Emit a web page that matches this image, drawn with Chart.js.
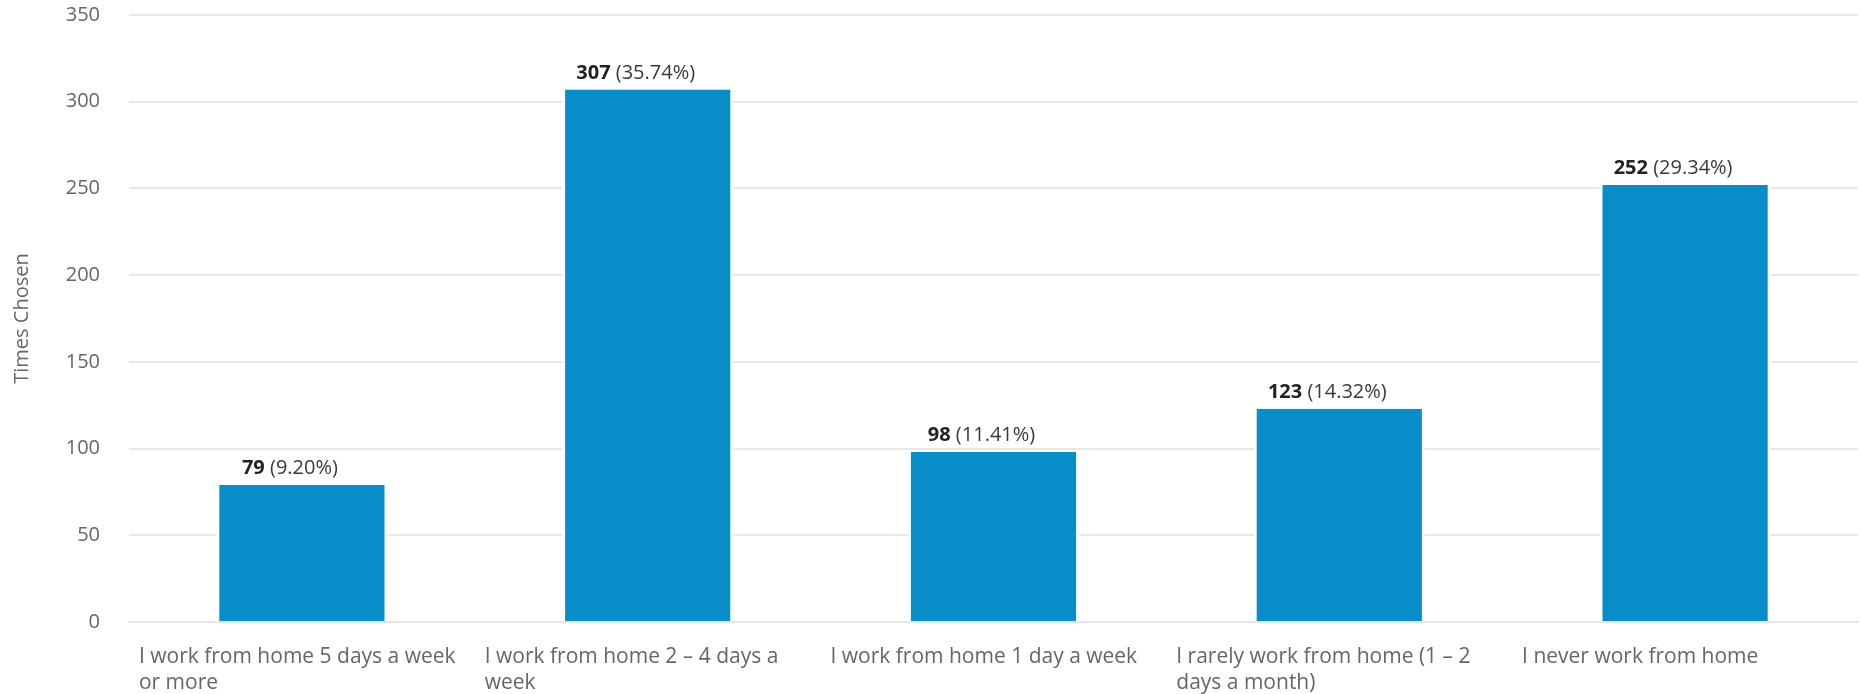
<!DOCTYPE html>
<html>
<head>
<meta charset="utf-8">
<script src="https://cdn.jsdelivr.net/npm/chart.js@4/dist/chart.umd.min.js"></script>
<style>
  html, body { margin: 0; padding: 0; background: #fff; overflow: hidden; }
  #wrap { width: 1862px; height: 694px; }
</style>
</head>
<body>
<div id="wrap"><canvas id="barChart"></canvas></div>
<script>
const categories = [
  ['I work from home 5 days a week', 'or more'],
  ['I work from home 2 – 4 days a', 'week'],
  'I work from home 1 day a week',
  ['I rarely work from home (1 – 2', 'days a month)'],
  'I never work from home'
];
const timesChosen = [79, 307, 98, 123, 252];
const yTicks = [0, 50, 100, 150, 200, 250, 300, 350];

const FONT = "'Open Sans', sans-serif";
const BAR_BLUE = '#078dc8';
const total = timesChosen.reduce((a, b) => a + b, 0);

// count in bold, share of total in regular, above each bar
const valueLabels = {
  id: 'valueLabels',
  afterDatasetsDraw(chart) {
    const { ctx } = chart;
    const meta = chart.getDatasetMeta(0);
    ctx.save();
    ctx.textBaseline = 'alphabetic';
    ctx.textAlign = 'left';
    meta.data.forEach((bar, i) => {
      const count = String(timesChosen[i]);
      const pct = ' (' + (timesChosen[i] / total * 100).toFixed(2) + '%)';
      ctx.font = 'bold 20px ' + FONT;
      const w1 = ctx.measureText(count).width;
      ctx.font = '20px ' + FONT;
      const w2 = ctx.measureText(pct).width;
      const x = bar.x - 12 - (w1 + w2) / 2;
      const y = bar.y - 11;
      ctx.font = 'bold 20px ' + FONT;
      ctx.fillStyle = '#222';
      ctx.fillText(count, x, y);
      ctx.font = '20px ' + FONT;
      ctx.fillStyle = '#3a3a3a';
      ctx.fillText(pct, x + w1, y);
    });
    ctx.restore();
  }
};

new Chart(document.getElementById('barChart'), {
  type: 'bar',
  data: {
    labels: categories,
    datasets: [{
      data: timesChosen,
      backgroundColor: BAR_BLUE,
      borderColor: '#fff',
      borderWidth: { left: 3, right: 3, top: 0, bottom: 0 },
      borderSkipped: false,
      categoryPercentage: 1,
      barPercentage: 0.495
    }]
  },
  options: {
    responsive: true,
    maintainAspectRatio: false,
    animation: false,
    layout: { padding: { top: 15, right: 4, bottom: 0, left: 0 } },
    plugins: {
      legend: { display: false },
      tooltip: { enabled: false }
    },
    scales: {
      x: {
        z: 1,
        grid: { display: false },
        border: { display: true, color: '#e6e6e6', width: 2 },
        afterFit: s => {
          s.height = 72;
          s.paddingLeft = 0;
          s.paddingRight = 0;
        },
        ticks: {
          color: '#666',
          font: { family: FONT, size: 21, lineHeight: 1.24 },
          align: 'start',
          labelOffset: -163,
          padding: 14,
          maxRotation: 0,
          autoSkip: false
        }
      },
      y: {
        min: 0,
        max: 350,
        afterFit: s => {
          s.width = 129;
          s.paddingTop = 0;
          s.paddingBottom = 0;
        },
        afterBuildTicks: s => { s.ticks = yTicks.map(v => ({ value: v })); },
        grid: { color: '#e8e8e8', lineWidth: 2, drawTicks: false },
        border: { display: false },
        ticks: {
          color: '#666',
          font: { family: FONT, size: 20 },
          padding: 29
        },
        title: {
          display: true,
          text: 'Times Chosen',
          color: '#666',
          font: { family: FONT, size: 20 },
          padding: { top: 10, bottom: 0 }
        }
      }
    }
  },
  plugins: [valueLabels]
});
</script>
</body>
</html>
